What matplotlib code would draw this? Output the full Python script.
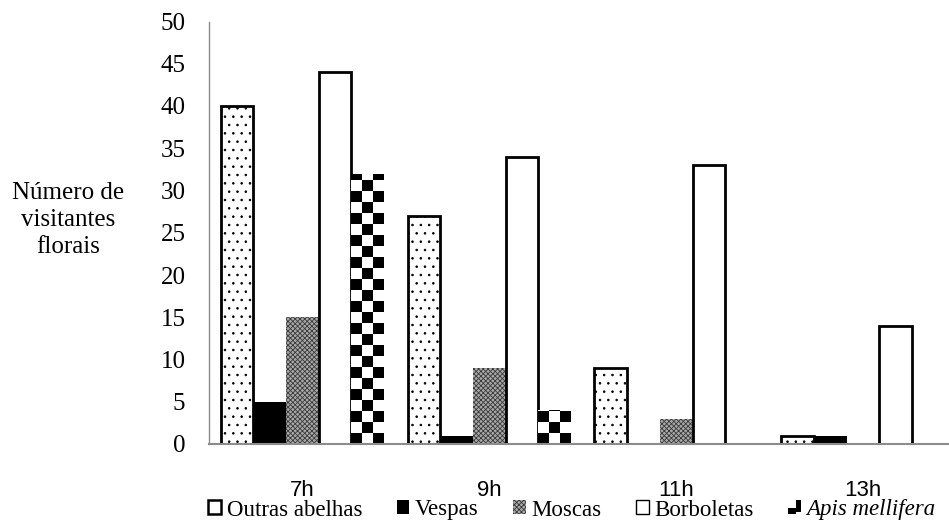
import numpy as np
import matplotlib
matplotlib.use("Agg")
import matplotlib.pyplot as plt
from matplotlib.patches import Rectangle, Patch
from matplotlib.legend_handler import HandlerBase

# Floral visitors counted per time slot
horarios = ["7h", "9h", "11h", "13h"]
grupos = ["Outras abelhas", "Vespas", "Moscas", "Borboletas", "Apis mellifera"]
outras_abelhas = [40, 27, 9, 1]
vespas = [5, 1, 0, 1]
moscas = [15, 9, 3, 0]
borboletas = [44, 34, 33, 14]
apis_mellifera = [32, 4, 0, 0]
y_ticks = [0, 5, 10, 15, 20, 25, 30, 35, 40, 45, 50]

series = [outras_abelhas, vespas, moscas, borboletas, apis_mellifera]

W, H = 949, 523
fig = plt.figure(figsize=(W / 100, H / 100), dpi=100)
ax = fig.add_axes([209 / W, 1 - 444 / H, (956.5 - 209) / W, (444 - 21.5) / H])

serif = "Liberation Serif"
sans = "Liberation Sans"

x = np.arange(len(horarios))
bw = 0.175
offsets = (np.arange(len(grupos)) - 2) * bw

styles = [
    dict(facecolor="white", edgecolor="black", linewidth=2.0, hatch=".."),
    dict(facecolor="black", edgecolor="black", linewidth=0),
    dict(facecolor="#a8a8a8", edgecolor="#3a3a3a", linewidth=0, hatch="xxxxxxx"),
    dict(facecolor="white", edgecolor="black", linewidth=2.0),
    dict(facecolor="white", edgecolor="none", linewidth=0),
]

plt.rcParams["hatch.linewidth"] = 0.6

containers = []
for vals, off, st in zip(series, offsets, styles):
    c = ax.bar(x + off, vals, width=bw, zorder=2, **st)
    containers.append(c)

# Checkerboard fill for the Apis mellifera bars
cell_h = 1.3
for rect in containers[4]:
    h = rect.get_height()
    if h <= 0:
        continue
    x0, w = rect.get_x(), rect.get_width()
    nrows = int(np.ceil(h / cell_h))
    ncols = 3
    board = (np.add.outer(np.arange(nrows), np.arange(ncols)) % 2).astype(float)
    im = ax.imshow(board, cmap="gray", vmin=0, vmax=1, interpolation="nearest",
                   extent=(x0, x0 + w, 0, nrows * cell_h), origin="lower",
                   aspect="auto", zorder=3)
    im.set_clip_path(rect)

ax.set_xlim(-0.5, 3.5)
ax.set_ylim(0, 50)
ax.set_aspect("auto")

for s in ["top", "right"]:
    ax.spines[s].set_visible(False)
ax.spines["left"].set_color("#8c8c8c")
ax.spines["left"].set_linewidth(1.0)
ax.spines["bottom"].set_color("#8c8c8c")
ax.spines["bottom"].set_linewidth(1.5)
ax.spines["bottom"].set_zorder(4)

ax.set_yticks(y_ticks)
ax.set_yticklabels([str(v) for v in y_ticks], fontfamily=serif, fontsize=18)
ax.tick_params(axis="y", length=0, pad=17)

ax.set_xticks(x)
ax.set_xticklabels(horarios, fontfamily=sans, fontsize=16)
ax.tick_params(axis="x", length=0, pad=26)

fig.text(68 / W, 1 - 220 / H, "Número de\nvisitantes\nflorais", ha="center",
         va="center", multialignment="center", fontfamily=serif, fontsize=18,
         linespacing=1.3)


class HandlerApis(HandlerBase):
    def create_artists(self, legend, orig_handle, xdescent, ydescent, width,
                       height, fontsize, trans):
        a = Rectangle((-xdescent, -ydescent), width * 0.65, height * 0.45,
                      facecolor="black", edgecolor="none", transform=trans)
        b = Rectangle((-xdescent + width * 0.65, -ydescent + height * 0.2),
                      width * 0.35, height * 0.8, facecolor="black",
                      edgecolor="none", transform=trans)
        return [a, b]


handles = [
    Patch(facecolor="white", edgecolor="black", linewidth=1.8),
    Patch(facecolor="black", edgecolor="black", linewidth=0),
    Patch(facecolor="#a8a8a8", edgecolor="#3a3a3a", linewidth=0, hatch="xxxxxxx"),
    Patch(facecolor="white", edgecolor="black", linewidth=1.0),
    Patch(facecolor="none", edgecolor="none"),
]
labels = grupos[:]
leg = fig.legend(handles, labels, loc="center", ncol=5,
                 bbox_to_anchor=(572 / W, 1 - 510 / H),
                 frameon=False, handlelength=0.55, handleheight=0.55,
                 handletextpad=0.25, columnspacing=1.5, borderaxespad=0,
                 prop={"family": serif, "size": 16.5},
                 handler_map={handles[4]: HandlerApis()})
leg.get_texts()[4].set_fontstyle("italic")

fig.savefig("out.png", dpi=100)
